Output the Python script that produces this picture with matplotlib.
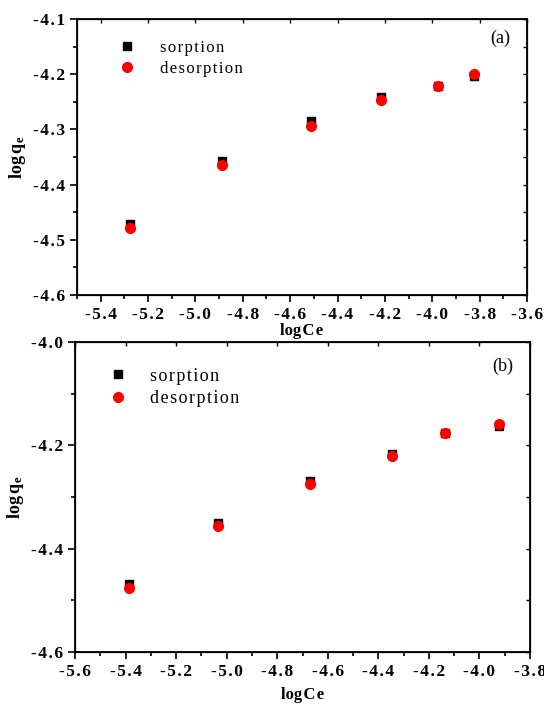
import numpy as np
import matplotlib.pyplot as plt
from matplotlib.ticker import MultipleLocator

plt.rcParams['font.family'] = 'Liberation Serif'
plt.rcParams['mathtext.fontset'] = 'custom'
plt.rcParams['mathtext.rm'] = 'Liberation Serif'
plt.rcParams['mathtext.bf'] = 'Liberation Serif:bold'

# panel (a)
xa = [-5.276, -4.889, -4.511, -4.215, -3.976, -3.823]
ya_sorp = [-4.471, -4.358, -4.285, -4.241, -4.222, -4.203]
ya_desorp = [-4.478, -4.364, -4.293, -4.247, -4.222, -4.200]

# panel (b)
xb = [-5.386, -5.033, -4.672, -4.346, -4.138, -3.924]
yb_sorp = [-4.469, -4.350, -4.269, -4.217, -4.177, -4.162]
yb_desorp = [-4.477, -4.357, -4.275, -4.221, -4.177, -4.159]

# tick values
xticks_a = [-5.4, -5.2, -5.0, -4.8, -4.6, -4.4, -4.2, -4.0, -3.8, -3.6]
yticks_a = [-4.6, -4.5, -4.4, -4.3, -4.2, -4.1]
xticks_b = [-5.6, -5.4, -5.2, -5.0, -4.8, -4.6, -4.4, -4.2, -4.0, -3.8]
yticks_b = [-4.6, -4.4, -4.2, -4.0]

fig = plt.figure(figsize=(5.44, 7.05), dpi=100)
W, H = 544, 705
SP = '\u200a'


def spaced(s):
    return SP.join(s)


def make_ax(l, r, t, b):
    return fig.add_axes([l / W, 1 - b / H, (r - l) / W, (b - t) / H])


def style(ax, xlim, ylim, xt, yt, xmin, ymin):
    ax.set_xlim(*xlim)
    ax.set_ylim(*ylim)
    ax.set_xticks(xt, [spaced('%.1f' % v) for v in xt])
    ax.set_yticks(yt, [spaced('%.1f' % v) for v in yt])
    ax.xaxis.set_minor_locator(MultipleLocator(xmin))
    ax.yaxis.set_minor_locator(MultipleLocator(ymin))
    ax.tick_params(which='both', direction='out', width=1.2, top=False, right=False)
    ax.tick_params(which='major', length=5)
    ax.tick_params(which='minor', length=3)
    for lab in ax.get_xticklabels() + ax.get_yticklabels():
        lab.set_fontproperties({'family': 'Liberation Serif', 'weight': 'bold', 'size': 12.5})
    for s in ax.spines.values():
        s.set_linewidth(1.3)
    # small inward ticks on top and right
    tx = ax.twiny()
    tx.set_xlim(*xlim)
    tx.set_xticks(xt)
    tx.tick_params(direction='in', length=3, width=1.0, labeltop=False)
    ty = ax.twinx()
    ty.set_ylim(*ylim)
    ty.yaxis.set_major_locator(MultipleLocator(ymin))
    ty.tick_params(direction='in', length=3, width=1.0, labelright=False)


ax1 = make_ax(77, 527, 19, 295)
ax1.plot(xa, ya_sorp, 's', color='black', ms=6, label=spaced('sorption'), zorder=2)
ax1.plot(xa, ya_desorp, 'o', color='red', ms=7, label=spaced('desorption'), zorder=3)
ax1.text(0.94, 0.93, '(a)', transform=ax1.transAxes, ha='center', va='center', fontsize=13)
ax1.legend(loc='upper left', bbox_to_anchor=(0.05, 0.98), frameon=False,
           prop={'size': 12}, handletextpad=1.2, labelspacing=0.3, handlelength=1.5)
ax1.set_ylabel(r'$\mathbf{log\,q_e}$', fontsize=13, labelpad=4)
ax1.set_xlabel('log' + SP + 'C' + SP + 'e', fontsize=12, fontweight='bold', labelpad=0)
style(ax1, (-5.5, -3.6), (-4.6, -4.1), xticks_a, yticks_a, 0.1, 0.05)

ax2 = make_ax(75, 530, 342, 652)
ax2.plot(xb, yb_sorp, 's', color='black', ms=6, label=spaced('sorption'), zorder=2)
ax2.plot(xb, yb_desorp, 'o', color='red', ms=7, label=spaced('desorption'), zorder=3)
ax2.text(0.94, 0.92, '(b)', transform=ax2.transAxes, ha='center', va='center', fontsize=13)
ax2.legend(loc='upper left', bbox_to_anchor=(0.03, 0.97), frameon=False,
           prop={'size': 13}, handletextpad=1.0, labelspacing=0.3, handlelength=1.5)
ax2.set_ylabel(r'$\mathbf{log\,q_e}$', fontsize=13, labelpad=4)
ax2.set_xlabel('log' + SP + 'C' + SP + 'e', fontsize=12, fontweight='bold', labelpad=5)
style(ax2, (-5.6, -3.8), (-4.6, -4.0), xticks_b, yticks_b, 0.1, 0.1)

fig.savefig('out.png', dpi=100)
